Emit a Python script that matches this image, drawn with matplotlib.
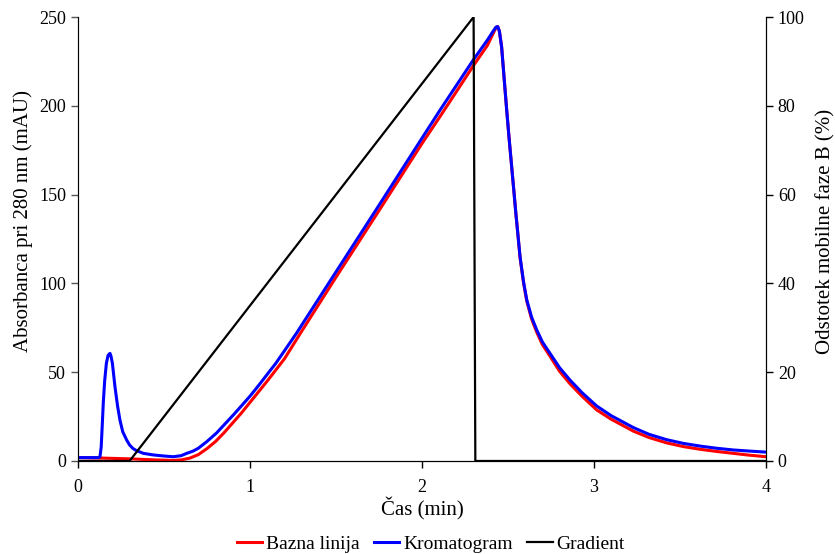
import matplotlib
matplotlib.use("Agg")
import matplotlib.pyplot as plt

plt.rcParams['font.family'] = ['Liberation Serif', 'DejaVu Serif']

# Kromatogram (blue)
t_krom = [0, 0.12, 0.128, 0.135, 0.14, 0.147, 0.155, 0.165, 0.175, 0.186, 0.192,
          0.20, 0.215, 0.23, 0.244, 0.26, 0.283, 0.30, 0.32, 0.341, 0.38,
          0.438, 0.5, 0.554, 0.6, 0.632, 0.67, 0.70, 0.75, 0.806, 0.85, 0.903,
          0.95, 1.0, 1.05, 1.097, 1.15, 1.19, 1.27, 1.5, 1.75, 2.0, 2.105, 2.2,
          2.298, 2.38, 2.41, 2.43, 2.44, 2.45, 2.463, 2.477, 2.492, 2.506,
          2.521, 2.535, 2.546, 2.558, 2.57, 2.59, 2.609, 2.637, 2.667, 2.70,
          2.744, 2.80, 2.86, 2.93, 3.015, 3.1, 3.229, 3.32, 3.422, 3.52,
          3.616, 3.71, 3.81, 3.9, 4.0]
a_krom = [1.9, 1.9, 2.5, 8, 18, 32.6, 45, 55, 59.5, 60.6, 59,
          55, 41.8, 31, 23, 16.5, 11.8, 9, 7, 5.8, 4.3,
          3.4, 2.8, 2.4, 3, 4.3, 5.6, 7.2, 11, 15.8, 20.4, 25.9,
          31, 36.5, 42.5, 48.4, 55, 60.6, 71.9, 106.5, 144, 181.8, 197.6, 211.5,
          225.8, 237, 241.5, 244.3, 244.6, 242, 233, 216, 198, 182,
          166, 151, 139, 127, 115, 101, 90.7, 81, 73.8, 67,
          60.6, 52.5, 45.6, 38.5, 31, 25.5, 18.8, 15, 12, 9.9,
          8.4, 7.2, 6.2, 5.6, 5.0]

# Bazna linija (red)
t_bazna = [0, 0.15, 0.3, 0.45, 0.55, 0.6, 0.65, 0.7, 0.75, 0.8, 0.85, 0.9,
           0.95, 1.0, 1.1, 1.2, 1.3, 1.5, 1.75, 2.0, 2.105, 2.2, 2.298, 2.38,
           2.41, 2.43, 2.44, 2.45, 2.463, 2.477, 2.492, 2.506, 2.521, 2.535,
           2.546, 2.558, 2.57, 2.59, 2.609, 2.637, 2.667, 2.70, 2.744, 2.80,
           2.86, 2.93, 3.015, 3.1, 3.229, 3.32, 3.422, 3.52, 3.616, 3.71,
           3.81, 3.9, 4.0]
a_bazna = [1.9, 1.6, 1.2, 0.6, 0.3, 0.6, 1.6, 3.6, 7, 11, 16, 21.5,
           27, 33, 45, 57.5, 73, 103.5, 141, 178.8, 194, 208, 222.5, 234,
           240, 244, 244.6, 242, 233, 216, 198, 182, 166, 151,
           139, 127, 114.5, 100.5, 90, 80, 72.5, 65.5, 59, 50.5,
           43.5, 36.5, 28.8, 23.5, 16.8, 13.2, 10.2, 8.1, 6.6, 5.4,
           4.3, 3.3, 2.4]

# Gradient (black, right axis)
t_grad = [0, 0.3, 2.3, 2.31, 4.0]
b_grad = [0, 0, 100, 0, 0]

fig = plt.figure(figsize=(8.35, 5.54), dpi=100)
ax = fig.add_axes([0.0934, 0.1679, 0.8240, 0.8014])
ax2 = ax.twinx()

l1, = ax.plot(t_bazna, a_bazna, color='#ff0000', lw=2.2, label='Bazna linija',
              solid_joinstyle='round')
l2, = ax.plot(t_krom, a_krom, color='#0000ff', lw=2.2, label='Kromatogram',
              solid_joinstyle='round')
l3, = ax2.plot(t_grad, b_grad, color='black', lw=1.6, label='Gradient')

ax.set_xlim(0, 4)
ax.set_ylim(0, 250)
ax2.set_ylim(0, 100)
ax.set_xticks([0, 1, 2, 3, 4])
ax.set_yticks([0, 50, 100, 150, 200, 250])
ax2.set_yticks([0, 20, 40, 60, 80, 100])

for a in (ax, ax2):
    a.spines['top'].set_visible(False)
    a.tick_params(labelsize=13, direction='out', length=5, width=1)
ax.spines['left'].set_color('#555555')
ax.tick_params(axis='y', colors='#555555', labelcolor='black')
ax.tick_params(axis='x', pad=8)

ax.set_xlabel('Čas (min)', fontsize=15)
ax.set_ylabel('Absorbanca pri 280 nm (mAU)', fontsize=15)
ax2.set_ylabel('Odstotek mobilne faze B (%)', fontsize=15)
ax.xaxis.set_label_coords(0.5, -0.083)
ax.yaxis.set_label_coords(-0.066, 0.54)
ax2.yaxis.set_label_coords(1.073, 0.518)

fig.legend(handles=[l1, l2, l3], loc='lower center', bbox_to_anchor=(0.516, -0.03),
           ncol=3, frameon=False, fontsize=14, handlelength=1.3,
           handletextpad=0.2, columnspacing=0.75)

fig.savefig('out.png', dpi=100)
